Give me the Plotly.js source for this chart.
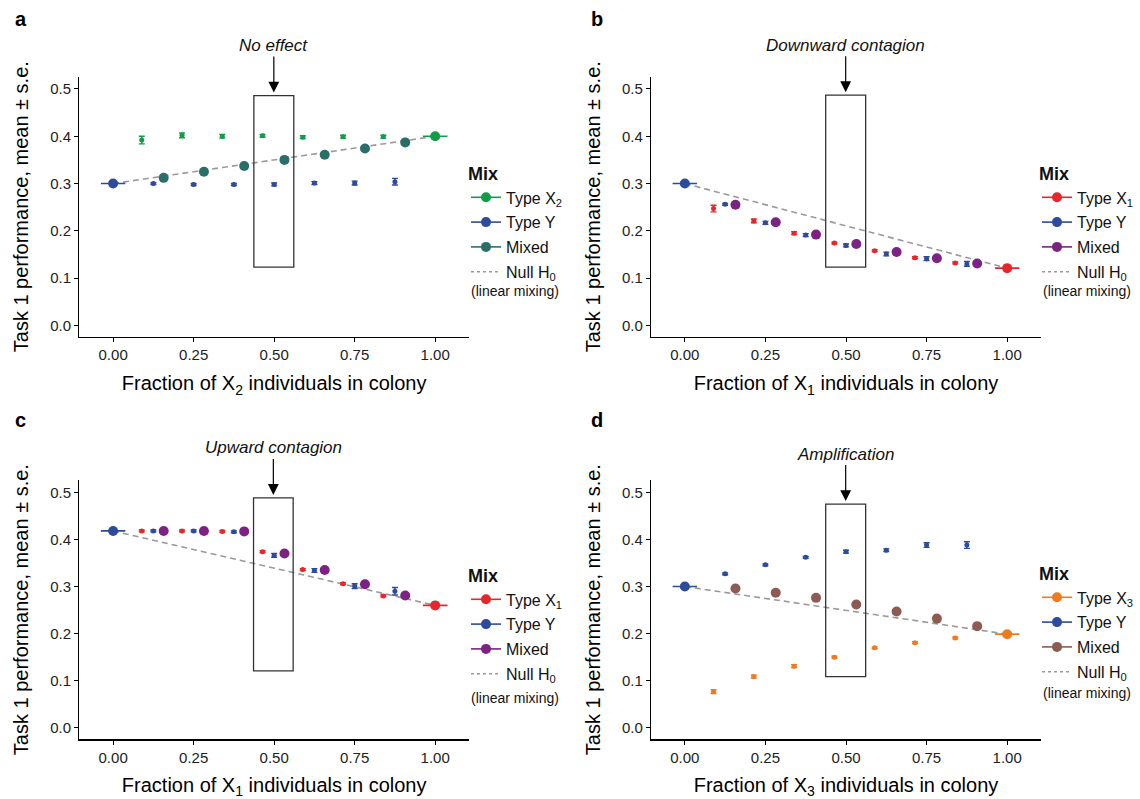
<!DOCTYPE html>
<html>
<head>
<meta charset="utf-8">
<script src="https://cdn.plot.ly/plotly-3.0.1.min.js"></script>
<style>html,body{margin:0;padding:0;background:#fff;}#chart{width:1140px;height:799px;}</style>
</head>
<body>
<div id="chart"></div>
<script>
// ---------- data ----------
const tickVals = [0, 0.25, 0.5, 0.75, 1];
const fracX = [0.089, 0.214, 0.339, 0.464, 0.589, 0.714, 0.839];
const fracY = [0.125, 0.25, 0.375, 0.5, 0.625, 0.75, 0.875];
const fracM = [0.157, 0.282, 0.407, 0.532, 0.657, 0.782, 0.907];
const pureX = [0, 1];

// panel a : No effect
const aTypeX = [0.392, 0.402, 0.400, 0.401, 0.398, 0.399, 0.399];
const aTypeXse = [0.008, 0.005, 0.004, 0.003, 0.003, 0.003, 0.003];
const aTypeY = [0.300, 0.298, 0.298, 0.298, 0.301, 0.301, 0.304];
const aTypeYse = [0.002, 0.002, 0.002, 0.003, 0.003, 0.004, 0.007];
const aMixed = [0.312, 0.325, 0.337, 0.350, 0.361, 0.374, 0.387];
const aPure = [0.300, 0.400];

// panel b : Downward contagion
const bTypeX = [0.247, 0.221, 0.195, 0.174, 0.158, 0.143, 0.132];
const bTypeXse = [0.007, 0.004, 0.003, 0.002, 0.002, 0.002, 0.002];
const bTypeY = [0.256, 0.217, 0.191, 0.169, 0.151, 0.141, 0.130];
const bTypeYse = [0.002, 0.003, 0.003, 0.003, 0.004, 0.004, 0.005];
const bMixed = [0.255, 0.218, 0.192, 0.172, 0.155, 0.142, 0.131];
const bPure = [0.300, 0.121];

// panel c : Upward contagion
const cTypeX = [0.418, 0.418, 0.417, 0.374, 0.336, 0.306, 0.280];
const cTypeXse = [0.002, 0.002, 0.002, 0.002, 0.002, 0.002, 0.002];
const cTypeY = [0.418, 0.418, 0.416, 0.366, 0.334, 0.301, 0.290];
const cTypeYse = [0.002, 0.002, 0.002, 0.004, 0.004, 0.005, 0.008];
const cMixed = [0.418, 0.418, 0.417, 0.370, 0.335, 0.305, 0.281];
const cPure = [0.418, 0.260];

// panel d : Amplification
const dTypeX = [0.077, 0.109, 0.131, 0.150, 0.170, 0.181, 0.191];
const dTypeXse = [0.004, 0.003, 0.003, 0.002, 0.002, 0.002, 0.002];
const dTypeY = [0.327, 0.346, 0.362, 0.374, 0.377, 0.388, 0.388];
const dTypeYse = [0.002, 0.002, 0.002, 0.003, 0.003, 0.005, 0.007];
const dMixed = [0.296, 0.287, 0.276, 0.262, 0.247, 0.232, 0.216];
const dPure = [0.300, 0.199];

// highlight boxes [x0, x1, y0, y1]
const boxA = [0.437, 0.561, 0.123, 0.486];
const boxB = [0.437, 0.561, 0.123, 0.487];
const boxC = [0.436, 0.559, 0.121, 0.488];
const boxD = [0.437, 0.561, 0.109, 0.475];

const panelTitles = ['No effect', 'Downward contagion', 'Upward contagion', 'Amplification'];
const xTypeNames = ['X<sub>2</sub>', 'X<sub>1</sub>', 'X<sub>1</sub>', 'X<sub>3</sub>'];

// ---------- styling ----------
const BLUE = '#2c4b9b';
const panels = [
  {k:'', X:aTypeX, Xse:aTypeXse, Y:aTypeY, Yse:aTypeYse, M:aMixed, P:aPure, box:boxA, cX:'#129c4a', cM:'#2a6e6a', leg:'legend'},
  {k:'2', X:bTypeX, Xse:bTypeXse, Y:bTypeY, Yse:bTypeYse, M:bMixed, P:bPure, box:boxB, cX:'#e5262a', cM:'#7b2283', leg:'legend2'},
  {k:'3', X:cTypeX, Xse:cTypeXse, Y:cTypeY, Yse:cTypeYse, M:cMixed, P:cPure, box:boxC, cX:'#e5262a', cM:'#7b2283', leg:'legend3'},
  {k:'4', X:dTypeX, Xse:dTypeXse, Y:dTypeY, Yse:dTypeYse, M:dMixed, P:dPure, box:boxD, cX:'#f07a1e', cM:'#8c5b52', leg:'legend4'}
];

const traces = [];
const shapes = [];
const annotations = [];
const layout = {
  width: 1140, height: 799,
  margin: {l:0, r:0, t:0, b:0},
  paper_bgcolor: '#fff', plot_bgcolor: '#fff',
  font: {family: 'Liberation Sans, Arial, sans-serif', color: '#000'},
  showlegend: true
};

const W = 1140, H = 799;
const xDom = [[79.3/W, 469/W], [651/W, 1041/W]];
const yDom = [[1-336.7/H, 1-76.7/H], [1-739.3/H, 1-480/H]];
// legend top-left corners (px)
const legPx = [[466, 157], [1037, 157], [466, 559], [1037, 557]];
// "(linear mixing)" note centres (px)
const notePx = [[515, 291], [1087, 291], [515, 698], [1087, 693]];
const letters = ['a','b','c','d'];
const letterPx = [[21, 19], [597, 19], [21, 420], [597, 420]];

panels.forEach((p, i) => {
  const xa = 'x' + p.k, ya = 'y' + p.k;
  const col = i % 2, row = Math.floor(i / 2);
  // null line
  traces.push({type:'scatter', mode:'lines', x:pureX, y:p.P, xaxis:xa, yaxis:ya,
    line:{color:'#9a9a9a', width:1.6, dash:'6px,4px'}, showlegend:false, hoverinfo:'skip'});
  // type X
  traces.push({type:'scatter', mode:'markers', x:fracX, y:p.X, xaxis:xa, yaxis:ya,
    marker:{color:p.cX, size:5},
    error_y:{type:'data', array:p.Xse, visible:true, color:p.cX, thickness:1.4, width:3},
    showlegend:false});
  // type Y
  traces.push({type:'scatter', mode:'markers', x:fracY, y:p.Y, xaxis:xa, yaxis:ya,
    marker:{color:BLUE, size:5},
    error_y:{type:'data', array:p.Yse, visible:true, color:BLUE, thickness:1.4, width:3},
    showlegend:false});
  // pure endpoints
  traces.push({type:'scatter', mode:'markers', x:[pureX[0]], y:[p.P[0]], xaxis:xa, yaxis:ya,
    marker:{color:BLUE, size:10},
    error_x:{type:'constant', value:0.038, visible:true, color:BLUE, thickness:1.6, width:0},
    showlegend:false});
  traces.push({type:'scatter', mode:'markers', x:[pureX[1]], y:[p.P[1]], xaxis:xa, yaxis:ya,
    marker:{color:p.cX, size:10},
    error_x:{type:'constant', value:0.038, visible:true, color:p.cX, thickness:1.6, width:0},
    showlegend:false});
  // mixed
  traces.push({type:'scatter', mode:'markers', x:fracM, y:p.M, xaxis:xa, yaxis:ya,
    marker:{color:p.cM, size:10}, showlegend:false});

  // legend entries
  const legItems = [
    {name:'Type ' + xTypeNames[i], c:p.cX},
    {name:'Type Y', c:BLUE},
    {name:'Mixed', c:p.cM}
  ];
  legItems.forEach((it, j) => {
    traces.push({type:'scatter', mode:'lines+markers', x:[null], y:[null], xaxis:xa, yaxis:ya,
      name:it.name, legend:p.leg, legendgroup:p.leg + j,
      marker:{color:it.c, size:10}, line:{color:it.c, width:1.6}});
  });
  traces.push({type:'scatter', mode:'lines', x:[null], y:[null], xaxis:xa, yaxis:ya,
    name:'Null H<sub>0</sub>', legend:p.leg, legendgroup:p.leg + 3,
    line:{color:'#9a9a9a', width:1.4, dash:'3px,3px'}});

  layout[p.leg] = {
    x: legPx[i][0]/W, y: 1 - legPx[i][1]/H, xanchor:'left', yanchor:'top',
    xref:'paper', yref:'paper', bgcolor:'rgba(0,0,0,0)',
    title:{text:'<b>Mix</b>', font:{size:18}},
    font:{size:16, color:'#111'}, traceorder:'grouped', tracegroupgap:1,
    itemwidth:30
  };

  layout['xaxis' + p.k] = {
    domain: xDom[col], anchor: ya, range:[-0.105, 1.105],
    tickvals: tickVals, tickformat:'.2f', ticks:'outside', ticklen:4, tickcolor:'#000',
    showline:true, linecolor:'#000', linewidth:1.2, showgrid:false, zeroline:false,
    tickfont:{size:15, color:'#222'},
    title:{text:'Fraction of ' + xTypeNames[i] + ' individuals in colony', font:{size:20}, standoff:14}
  };
  layout['yaxis' + p.k] = {
    domain: yDom[row], anchor: xa, range:[-0.024, 0.526],
    dtick:0.1, tick0:0, tickformat:'.1f', ticks:'outside', ticklen:4, tickcolor:'#000',
    showline:true, linecolor:'#000', linewidth:1.2, showgrid:false, zeroline:false,
    tickfont:{size:15, color:'#222'},
    title:{text:'Task 1 performance, mean ± s.e.', font:{size:20}, standoff:16}
  };

  shapes.push({type:'rect', xref:xa, yref:ya, x0:p.box[0], x1:p.box[1], y0:p.box[2], y1:p.box[3],
    line:{color:'#333', width:1.3}, fillcolor:'rgba(0,0,0,0)'});

  annotations.push({xref:xa, yref:ya, x:(p.box[0] + p.box[1]) / 2, y:p.box[3],
    text:'<i>' + panelTitles[i] + '</i>', font:{size:17, color:'#111'},
    showarrow:true, arrowhead:2, arrowsize:1.8, arrowwidth:1.2, arrowcolor:'#000',
    ax:0, ay:-50, standoff:3});

  annotations.push({xref:'paper', yref:'paper', x:letterPx[i][0]/W, y:1 - letterPx[i][1]/H,
    text:'<b>' + letters[i] + '</b>', showarrow:false, font:{size:20, color:'#000'},
    xanchor:'center', yanchor:'middle'});

  annotations.push({xref:'paper', yref:'paper', x:notePx[i][0]/W, y:1 - notePx[i][1]/H,
    text:'(linear mixing)', showarrow:false, font:{size:14, color:'#111'},
    xanchor:'center', yanchor:'middle'});
});

layout.shapes = shapes;
layout.annotations = annotations;

Plotly.newPlot('chart', traces, layout, {displayModeBar:false, staticPlot:true});
</script>
</body>
</html>
